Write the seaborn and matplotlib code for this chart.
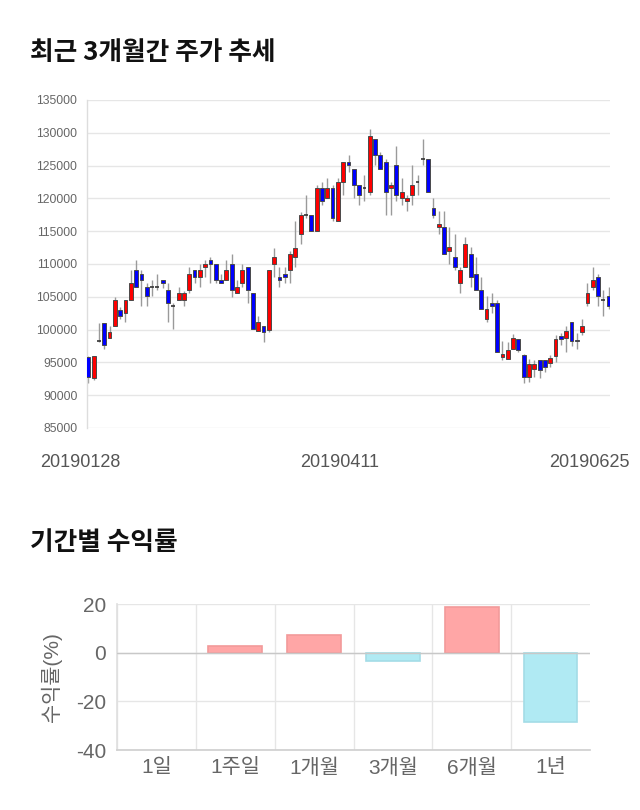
import numpy as np
import pandas as pd
import matplotlib
matplotlib.use("Agg")
import matplotlib.pyplot as plt
import matplotlib.transforms as mtransforms
import seaborn as sns

# ---- daily candles ----
opens = [95800, 92600, 98300, 101070, 98750, 100600, 103020, 102500, 104550, 109060,
         108550, 106520, 106520, 106520, 107540, 106010, 103600, 104550, 104550, 106070,
         109060, 108040, 109520, 110540, 110000, 107540, 107540, 110000, 105560, 107030,
         109520, 105560, 99750, 100600, 99900, 110000, 108040, 108550, 109060, 111000,
         114500, 117540, 117540, 115000, 121550, 120030, 121550, 116570, 122560, 125560,
         124540, 122060, 121550, 121040, 129060, 126570, 125560, 121550, 125050, 120030,
         119570, 120530, 122560, 126060, 126060, 118540, 115580, 115580, 112040, 111040,
         107030, 109520, 111550, 108550, 106070, 101620, 104030, 104030, 95860, 95510,
         96980, 98630, 96070, 92820, 93980, 95300, 95300, 94850, 95910, 98990,
         98730, 101120, 98480, 99650, 104030, 106570, 108040, 104550, 105050]
highs = [96000, 96000, 101000, 101070, 100500, 105000, 103500, 104550, 109100, 110540,
         109060, 107030, 107540, 108500, 107540, 107030, 104000, 106520, 105900, 109520,
         109060, 110000, 110540, 111000, 110000, 108550, 110540, 111500, 107540, 110000,
         109520, 105560, 102100, 100600, 109060, 112500, 109520, 109520, 112000, 116500,
         118000, 120500, 117540, 122000, 122560, 123070, 122060, 123070, 125560, 126570,
         124540, 122060, 123580, 130590, 129060, 127080, 126060, 122560, 128050, 123070,
         120530, 125050, 123580, 129060, 126060, 120030, 118030, 118030, 115580, 114550,
         109520, 114040, 112550, 111060, 108040, 105050, 105560, 104550, 98300, 98070,
         99400, 98630, 96320, 95510, 95300, 95300, 95300, 96100, 99250, 99500,
         100600, 101120, 99500, 101620, 107030, 109520, 108550, 106070, 106520]
lows = [91800, 92300, 98100, 97100, 98750, 100600, 101600, 101150, 104550, 106570,
        103650, 103650, 105100, 106000, 106300, 101100, 100100, 104550, 103600, 105560,
        107030, 106570, 108040, 107030, 107030, 107030, 107540, 105000, 105560, 106570,
        104100, 100100, 99750, 98070, 99650, 108040, 106570, 107030, 107030, 109520,
        113000, 117000, 115000, 115000, 119060, 120030, 116570, 116570, 120580, 124090,
        120030, 119060, 119570, 120530, 125050, 124540, 117540, 117540, 119570, 119060,
        118030, 119060, 120530, 125050, 121040, 117080, 114600, 111550, 110050, 109060,
        105560, 109520, 106570, 106070, 103070, 101120, 102590, 96620, 95300, 95510,
        96980, 96630, 91800, 92000, 92820, 92570, 93580, 94340, 95100, 97620,
        96630, 97500, 97100, 99240, 103580, 106070, 103580, 102060, 103070]
closes = [92800, 96000, 98300, 97600, 99650, 104550, 102060, 104550, 107030, 106570,
          107540, 105100, 106520, 106520, 107030, 104030, 103600, 105570, 105570, 108550,
          108040, 109060, 110000, 110000, 107540, 107030, 109060, 106070, 106570, 109060,
          106070, 100100, 101100, 99650, 109060, 111000, 107540, 108040, 111500, 112500,
          117540, 117540, 115000, 121550, 119570, 121550, 117080, 122560, 125560, 125050,
          122060, 120530, 121550, 129570, 126570, 124540, 121040, 122060, 120530, 121040,
          120030, 122060, 122560, 126060, 121040, 117540, 116070, 111550, 112550, 109570,
          109060, 113030, 108040, 106070, 103070, 103100, 103580, 96620, 96320, 96830,
          98730, 96830, 92820, 94750, 94800, 93830, 94240, 95710, 98630, 98530,
          99850, 98230, 98230, 100610, 105560, 107540, 105050, 104550, 103580]
date_labels = ["20190128", "20190411", "20190625"]
date_label_idx = [0, 48, 98]

# ---- period returns ----
periods = ["1일", "1주일", "1개월", "3개월", "6개월", "1년"]
returns = [0.0, 2.6, 7.2, -3.3, 18.9, -28.4]

sns.set_theme(style="white")
plt.rcParams['font.family'] = ['Liberation Sans', 'Noto Sans CJK KR']
plt.rcParams['axes.unicode_minus'] = False

fig = plt.figure(figsize=(6.4, 8.1), dpi=100)
W, H = 640, 810

# ================= candlestick chart =================
ax1 = fig.add_axes([87 / W, 1 - 428 / H, 523 / W, 328 / H])
o = np.array(opens, float)
h = np.array(highs, float)
l = np.array(lows, float)
c = np.array(closes, float)
n = len(o)
idx = np.arange(n)
flat = c == o
up = c > o
ax1.vlines(idx, l, h, color='#9a9a9a', linewidth=1, zorder=2)
body_col = np.where(up, '#FF0000', '#0000FF')
bot = np.minimum(o, c)
hgt = np.abs(c - o)
ax1.bar(idx[~flat], hgt[~flat], bottom=bot[~flat], width=0.72,
        color=body_col[~flat], edgecolor='#4a4a4a', linewidth=0.7, zorder=3)
ax1.hlines(o[flat], idx[flat] - 0.36, idx[flat] + 0.36, color='#333333',
           linewidth=1.2, zorder=3)
ax1.set_xlim(-0.25, n - 1 + 0.25)
ax1.set_ylim(85000, 135000)
ax1.set_yticks(np.arange(85000, 135001, 5000))
ax1.yaxis.grid(True, color='#e6e6e6', linewidth=1)
ax1.xaxis.grid(False)
for s in ['top', 'right', 'bottom']:
    ax1.spines[s].set_visible(False)
ax1.spines['left'].set_color('#dddddd')
ax1.spines['left'].set_linewidth(1)
ax1.tick_params(axis='y', labelsize=8.7, colors='#666666', length=0, pad=7)
ax1.set_xticks(date_label_idx, date_labels)
ax1.tick_params(axis='x', labelsize=13, colors='#555555', length=0, pad=19)
shifts = [-8, -4, -19]
for lab, dx in zip(ax1.get_xticklabels(), shifts):
    lab.set_transform(lab.get_transform() +
                      mtransforms.ScaledTranslation(dx / 100, 0, fig.dpi_scale_trans))

fig.text(30 / W, 1 - 52 / H, '최근 3개월간 주가 추세', fontsize=18.5, fontweight='bold',
         family=['Noto Sans CJK KR'], va='center', ha='left', color='#111111')

# ================= returns bar chart =================
fig.text(30 / W, 1 - 543 / H, '기간별 수익률', fontsize=18.5, fontweight='bold',
         family=['Noto Sans CJK KR'], va='center', ha='left', color='#111111')

ax2 = fig.add_axes([117 / W, 60 / H, 473 / W, 146 / H])
df = pd.DataFrame({'period': periods, 'ret': returns})
pal = ['#FFA6A6' if r >= 0 else '#B0EAF3' for r in returns]
sns.barplot(data=df, x='period', y='ret', hue='period', palette=pal, legend=False,
            width=0.68, ax=ax2, saturation=1, zorder=3)
for p, r in zip(ax2.patches, returns):
    p.set_edgecolor('#F29A9A' if r >= 0 else '#A3DCE6')
    p.set_linewidth(1.2 if r != 0 else 0)
ax2.set_xlim(-0.5, 5.5)
ax2.set_ylim(-40, 20)
ax2.set_yticks([-40, -20, 0, 20])
ax2.yaxis.grid(True, color='#e6e6e6', linewidth=1, zorder=0)
ax2.axhline(0, color='#c8c8c8', linewidth=1, zorder=4)
ax2.set_xticks(np.arange(-0.5, 5.0, 1), minor=True)
ax2.xaxis.grid(True, which='minor', color='#e6e6e6', linewidth=1, zorder=0)
ax2.xaxis.grid(False, which='major')
ax2.tick_params(axis='x', which='minor', length=12, color='#e6e6e6', width=1)
ax2.tick_params(axis='x', which='major', length=0, labelsize=15, colors='#666666', pad=6)
ax2.tick_params(axis='y', length=0, labelsize=15, colors='#666666', pad=8)
for s in ['top', 'right']:
    ax2.spines[s].set_visible(False)
ax2.spines['left'].set_color('#e0e0e0')
ax2.spines['bottom'].set_color('#d0d0d0')
ax2.set_xlabel('')
ax2.set_ylabel('수익률(%)', fontsize=15, color='#666666', labelpad=10)

fig.savefig('out.png', dpi=100)
